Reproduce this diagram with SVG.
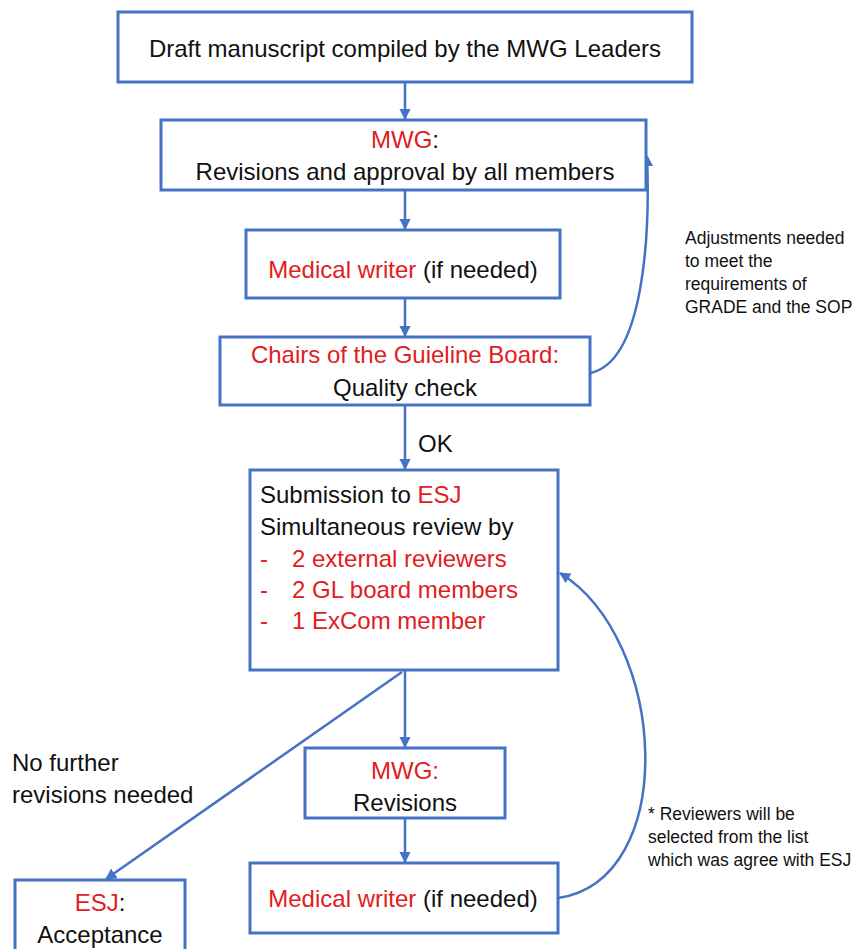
<svg xmlns="http://www.w3.org/2000/svg" width="852" height="949" viewBox="0 0 852 949">
<style>
.box{fill:#fff;stroke:#4472C4;stroke-width:3}
.c{fill:none;stroke:#4472C4;stroke-width:2.5}
text{font-family:"Liberation Sans",Arial,sans-serif;font-size:24px;fill:#111}
.r{fill:#E0201E}
.s{font-size:17.5px}
.m{text-anchor:middle}
</style>
<defs>
<marker id="ah" viewBox="0 0 10 10" refX="9" refY="5" markerWidth="4.5" markerHeight="4.5" orient="auto">
<path d="M0,0L10,5L0,10z" fill="#4472C4"/>
</marker>
</defs>
<rect width="852" height="949" fill="#fff"/>
<g id="connectors">
<line class="c" x1="405" y1="82" x2="405" y2="119" marker-end="url(#ah)"/>
<line class="c" x1="405" y1="190" x2="405" y2="229" marker-end="url(#ah)"/>
<line class="c" x1="405" y1="298" x2="405" y2="336" marker-end="url(#ah)"/>
<line class="c" x1="405" y1="405" x2="405" y2="469" marker-end="url(#ah)"/>
<line class="c" x1="405" y1="670" x2="405" y2="747" marker-end="url(#ah)"/>
<line class="c" x1="405" y1="818" x2="405" y2="862" marker-end="url(#ah)"/>
<line class="c" x1="402" y1="672" x2="106" y2="879" marker-end="url(#ah)"/>
<path class="c" d="M590,373 C645,362 650,230 647,156" marker-end="url(#ah)"/>
<path class="c" d="M558,898 C680,880 668,640 560,573" marker-end="url(#ah)"/>
<text x="418" y="452">OK</text>
<text x="12" y="771">No further</text>
<text x="12" y="803">revisions needed</text>
<text class="s" x="685" y="244">Adjustments needed</text>
<text class="s" x="685" y="267">to meet the</text>
<text class="s" x="685" y="290">requirements of</text>
<text class="s" x="685" y="313">GRADE and the SOP</text>
<text class="s" x="648" y="820">* Reviewers will be</text>
<text class="s" x="648" y="843">selected from the list</text>
<text class="s" x="648" y="866">which was agree with ESJ</text>
</g>
<g id="draft">
<rect class="box" x="118" y="12" width="574" height="70"/>
<text class="m" x="405" y="57">Draft manuscript compiled by the MWG Leaders</text>
</g>
<g id="mwg1">
<rect class="box" x="161" y="120" width="485" height="70"/>
<text class="m" x="405" y="148"><tspan class="r">MWG</tspan>:</text>
<text class="m" x="405" y="180">Revisions and approval by all members</text>
</g>
<g id="writer1">
<rect class="box" x="246" y="230" width="314" height="68"/>
<text class="m" x="403" y="278"><tspan class="r">Medical writer</tspan> (if needed)</text>
</g>
<g id="chairs">
<rect class="box" x="220" y="337" width="370" height="68"/>
<text class="m r" x="405" y="363">Chairs of the Guieline Board:</text>
<text class="m" x="405" y="396">Quality check</text>
</g>
<g id="submission">
<rect class="box" x="250" y="470" width="308" height="200"/>
<text x="260" y="503">Submission to <tspan class="r">ESJ</tspan></text>
<text x="260" y="535">Simultaneous review by</text>
<text class="r" x="260" y="567">-</text><text class="r" x="292" y="567">2 external reviewers</text>
<text class="r" x="260" y="598">-</text><text class="r" x="292" y="598">2 GL board members</text>
<text class="r" x="260" y="629">-</text><text class="r" x="292" y="629">1 ExCom member</text>
</g>
<g id="mwg2">
<rect class="box" x="305" y="748" width="200" height="70"/>
<text class="m r" x="405" y="779">MWG:</text>
<text class="m" x="405" y="811">Revisions</text>
</g>
<g id="writer2">
<rect class="box" x="250" y="863" width="308" height="70"/>
<text class="m" x="403" y="907"><tspan class="r">Medical writer</tspan> (if needed)</text>
</g>
<g id="acceptance">
<rect class="box" x="15" y="880" width="170" height="75"/>
<text class="m" x="100" y="911"><tspan class="r">ESJ</tspan>:</text>
<text class="m" x="100" y="943">Acceptance</text>
</g>
</svg>
